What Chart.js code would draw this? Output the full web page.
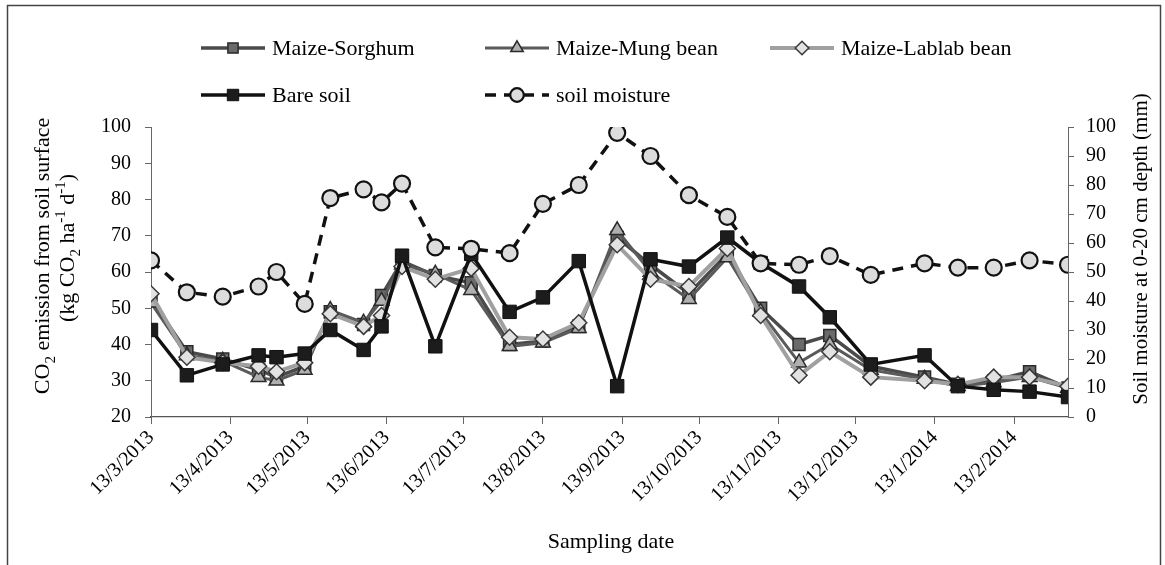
<!DOCTYPE html>
<html>
<head>
<meta charset="utf-8">
<script src="https://cdn.jsdelivr.net/npm/chart.js@4.4.1/dist/chart.umd.min.js"></script>
<style>
  html, body { margin: 0; padding: 0; background: #fff; }
  canvas { display: block; }
</style>
</head>
<body>
<canvas id="chart" width="1165" height="565"></canvas>
<script>
// Sampling dates (yyyy-mm-dd)
const sampleDates = ['2013-03-13','2013-03-27','2013-04-10','2013-04-24','2013-05-01','2013-05-12',
  '2013-05-22','2013-06-04','2013-06-11','2013-06-19','2013-07-02','2013-07-16','2013-07-31',
  '2013-08-13','2013-08-27','2013-09-11','2013-09-24','2013-10-09','2013-10-24','2013-11-06',
  '2013-11-21','2013-12-03','2013-12-19','2014-01-09','2014-01-22','2014-02-05','2014-02-19','2014-03-06'];

// CO2 emission (kg CO2 ha-1 d-1)
const maizeSorghum   = [52.5,38,36,33,31,34,49,45.5,53.5,63,59,57,40,41,45,69.5,62,54,65,50,40,42.5,34,31,29,30,32.5,28];
const maizeMungBean  = [51.5,37,35.5,31,30,33,49.5,46,52,62,59.5,55,39.5,40.5,44.5,71.5,60,52.5,64,49,35,40,33,30.5,28.5,29.5,31,28];
const maizeLablab    = [54,36.5,35,34,32.5,35,48.5,45,48,61.5,58,61,42,41.5,46,67.5,58,56,66.5,48,31.5,38,31,30,29,31,31,28.5];
const bareSoil       = [44,31.5,34.5,37,36.5,37.5,44,38.5,45,64.5,39.5,65,49,53,63,28.5,63.5,61.5,69.5,62.5,56,47.5,34.5,37,28.5,27.5,27,25.5];

// Soil moisture at 0-20 cm depth (mm)
const soilMoisture   = [54,43,41.5,45,50,39,75.5,78.5,74,80.5,58.5,58,56.5,73.5,80,98,90,76.5,69,53,52.5,55.5,49,53,51.5,51.5,54,52.5];

// Axis tick labels
const tickLabels = ['13/3/2013','13/4/2013','13/5/2013','13/6/2013','13/7/2013','13/8/2013',
  '13/9/2013','13/10/2013','13/11/2013','13/12/2013','13/1/2014','13/2/2014'];
const leftTicks  = [20,30,40,50,60,70,80,90,100];
const rightTicks = [0,10,20,30,40,50,60,70,80,90,100];

const FONT = '"Liberation Serif", "Times New Roman", serif';
const DAY = 86400000;
const t0 = Date.UTC(2013, 2, 13);
const isoDay = s => { const [y, m, d] = s.split('-').map(Number); return (Date.UTC(y, m - 1, d) - t0) / DAY; };
const dmyDay = s => { const [d, m, y] = s.split('/').map(Number); return (Date.UTC(y, m - 1, d) - t0) / DAY; };
const xDays = sampleDates.map(isoDay);
const tickDays = tickLabels.map(dmyDay);
const pts = arr => arr.map((v, i) => ({ x: xDays[i], y: v }));

const datasets = [
  { label: 'Maize-Sorghum', data: pts(maizeSorghum), yAxisID: 'y', order: 4,
    borderColor: '#4a4a4a', borderWidth: 3.5, pointStyle: 'rect', pointRadius: 8.5,
    pointBackgroundColor: '#6a6a6a', pointBorderColor: '#2a2a2a', pointBorderWidth: 1.5 },
  { label: 'Maize-Mung bean', data: pts(maizeMungBean), yAxisID: 'y', order: 3,
    borderColor: '#5a5a5a', borderWidth: 3, pointStyle: 'triangle', pointRadius: 8.5,
    pointBackgroundColor: '#b0b0b0', pointBorderColor: '#2a2a2a', pointBorderWidth: 1.5 },
  { label: 'Maize-Lablab bean', data: pts(maizeLablab), yAxisID: 'y', order: 2,
    borderColor: '#a0a0a0', borderWidth: 4, pointStyle: 'rectRot', pointRadius: 8,
    pointBackgroundColor: '#e2e2e2', pointBorderColor: '#383838', pointBorderWidth: 1.5 },
  { label: 'Bare soil', data: pts(bareSoil), yAxisID: 'y', order: 1,
    borderColor: '#111', borderWidth: 3.5, pointStyle: 'rect', pointRadius: 9.5,
    pointBackgroundColor: '#1c1c1c', pointBorderColor: '#111', pointBorderWidth: 1 },
  { label: 'soil moisture', data: pts(soilMoisture), yAxisID: 'y1', order: 0,
    borderColor: '#111', borderWidth: 3.5, borderDash: [11, 8], pointStyle: 'circle', pointRadius: 8,
    pointBackgroundColor: '#dcdcdc', pointBorderColor: '#111', pointBorderWidth: 2.2 }
];

// Legend slots: [dataset index, sample start x, y]
const legendSlots = [[0, 201, 48], [1, 485, 48], [2, 770, 48], [3, 201, 95], [4, 485, 95]];

function richText(ctx, segs, cx, cy, rot, size) {
  ctx.save();
  ctx.translate(cx, cy);
  ctx.rotate(rot);
  ctx.textAlign = 'left';
  ctx.textBaseline = 'alphabetic';
  ctx.fillStyle = '#000';
  const small = Math.round(size * 0.66);
  const fontOf = s => `${(s.sub || s.sup) ? small : size}px ${FONT}`;
  let total = 0;
  const widths = segs.map(s => { ctx.font = fontOf(s); const w = ctx.measureText(s.t).width; total += w; return w; });
  let x = -total / 2;
  const base = size * 0.33;
  segs.forEach((s, i) => {
    ctx.font = fontOf(s);
    const dy = s.sub ? size * 0.28 : s.sup ? -size * 0.42 : 0;
    ctx.fillText(s.t, x, base + dy);
    x += widths[i];
  });
  ctx.restore();
}

const decor = {
  id: 'decor',
  afterDraw(chart) {
    const ctx = chart.ctx;
    // frame
    ctx.save();
    ctx.strokeStyle = '#444';
    ctx.lineWidth = 1.5;
    ctx.strokeRect(7.5, 5.5, 1153, 575);
    ctx.restore();

    // legend
    legendSlots.forEach(([i, x0, y]) => {
      const ds = chart.data.datasets[i];
      ctx.save();
      ctx.strokeStyle = ds.borderColor;
      ctx.lineWidth = ds.borderWidth;
      ctx.setLineDash(ds.borderDash || []);
      ctx.beginPath();
      ctx.moveTo(x0, y);
      ctx.lineTo(x0 + 64, y);
      ctx.stroke();
      ctx.setLineDash([]);
      ctx.fillStyle = ds.pointBackgroundColor;
      ctx.strokeStyle = ds.pointBorderColor;
      ctx.lineWidth = ds.pointBorderWidth;
      Chart.helpers.drawPoint(ctx, { pointStyle: ds.pointStyle, radius: ds.pointRadius * 0.85,
        borderWidth: ds.pointBorderWidth, rotation: 0 }, x0 + 32, y);
      ctx.fillStyle = '#000';
      ctx.font = `22px ${FONT}`;
      ctx.textAlign = 'left';
      ctx.textBaseline = 'middle';
      ctx.fillText(ds.label, x0 + 71, y + 1);
      ctx.restore();
    });

    // axis titles
    richText(ctx, [{ t: 'CO' }, { t: '2', sub: true }, { t: ' emission from soil surface' }], 42, 256, -Math.PI / 2, 22);
    richText(ctx, [{ t: '(kg CO' }, { t: '2', sub: true }, { t: ' ha' }, { t: '-1', sup: true }, { t: ' d' }, { t: '-1', sup: true }, { t: ')' }], 67, 248, -Math.PI / 2, 22);
    richText(ctx, [{ t: 'Soil moisture at 0-20 cm depth (mm)' }], 1140, 249, -Math.PI / 2, 21);
    richText(ctx, [{ t: 'Sampling date' }], 611, 541, 0, 22);
  }
};

const tickFont = { family: FONT, size: 20 };

new Chart(document.getElementById('chart'), {
  type: 'line',
  data: { datasets },
  options: {
    responsive: false,
    devicePixelRatio: 1,
    animation: false,
    layout: { padding: { top: 127, left: 0, right: 0, bottom: 0 } },
    elements: { line: { tension: 0 } },
    plugins: { legend: { display: false }, tooltip: { enabled: false } },
    scales: {
      x: {
        type: 'linear', min: 0, max: xDays[xDays.length - 1],
        afterBuildTicks: s => { s.ticks = tickDays.map(v => ({ value: v })); },
        afterFit: s => { s.height = 148; s.paddingLeft = 0; s.paddingRight = 0; },
        ticks: { autoSkip: false, minRotation: 45, maxRotation: 45, color: '#000', font: tickFont, padding: 2,
          callback: (v, i) => tickLabels[i] },
        grid: { drawOnChartArea: false, drawTicks: true, tickLength: 7, color: '#666', lineWidth: 1 },
        border: { color: '#555', width: 1.2 }
      },
      y: {
        position: 'left', min: 20, max: 100,
        afterBuildTicks: s => { s.ticks = leftTicks.map(v => ({ value: v })); },
        afterFit: s => { s.width = 151; s.paddingTop = 0; s.paddingBottom = 0; },
        ticks: { color: '#000', font: tickFont, padding: 14 },
        grid: { drawOnChartArea: false, drawTicks: true, tickLength: 6, color: '#666' },
        border: { color: '#666', width: 1 }
      },
      y1: {
        position: 'right', min: 0, max: 100,
        afterBuildTicks: s => { s.ticks = rightTicks.map(v => ({ value: v })); },
        afterFit: s => { s.width = 97; s.paddingTop = 0; s.paddingBottom = 0; },
        ticks: { color: '#000', font: tickFont, padding: 12 },
        grid: { drawOnChartArea: false, drawTicks: true, tickLength: 6, color: '#666' },
        border: { color: '#666', width: 1 }
      }
    }
  },
  plugins: [decor]
});
</script>
</body>
</html>
